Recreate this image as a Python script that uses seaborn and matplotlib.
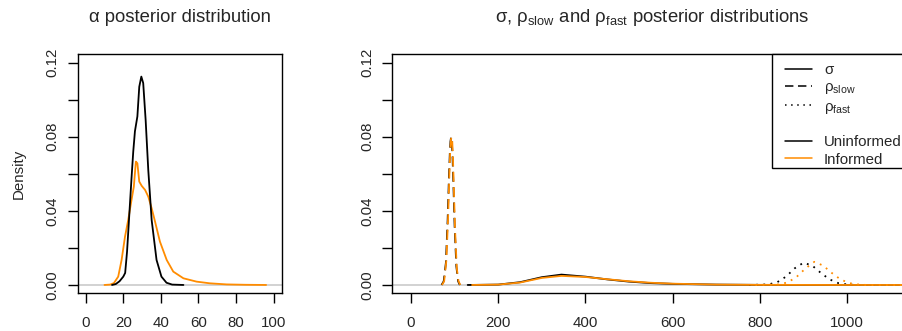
import matplotlib
matplotlib.use("Agg")
import matplotlib.pyplot as plt
from matplotlib.lines import Line2D
from matplotlib.patches import Rectangle
import seaborn as sns

sns.set_style("white")
plt.rcParams['font.family'] = ['Liberation Sans', 'DejaVu Sans']
plt.rcParams['mathtext.fontset'] = 'custom'
plt.rcParams['mathtext.rm'] = 'Liberation Sans'
plt.rcParams['mathtext.it'] = 'Liberation Sans:italic'

# ---- data: alpha posterior ----
alpha_uninf_x = [14, 16, 18, 20, 21, 22, 22.6, 23.5, 24.4, 25.3, 26.2, 27.5, 28.5, 29.6, 30.6, 31.9, 33.3, 35.1, 37.7, 40.3, 43, 46, 52]
alpha_uninf_y = [0, 0.0005, 0.002, 0.0045, 0.0065, 0.018, 0.028, 0.043, 0.058, 0.072, 0.083, 0.091, 0.107, 0.1125, 0.109, 0.089, 0.062, 0.035, 0.0135, 0.0045, 0.0012, 0.0002, 0]
alpha_inf_x = [10, 13, 15, 17.3, 19.1, 20.9, 22.6, 24.4, 25.6, 26.7, 27.5, 28.5, 29.8, 31.6, 33.3, 35.1, 36.9, 39.5, 43.1, 46.6, 52, 59, 66, 75, 85, 96]
alpha_inf_y = [0, 0.0002, 0.001, 0.0045, 0.0135, 0.026, 0.035, 0.046, 0.053, 0.0666, 0.0657, 0.0558, 0.0535, 0.0513, 0.0477, 0.0414, 0.0342, 0.0234, 0.0135, 0.0072, 0.0036, 0.0018, 0.0009, 0.0003, 0.0001, 0]

# ---- data: sigma ----
sigma_uninf_x = [130, 200, 250, 300, 345, 400, 450, 500, 550, 600, 700, 800, 1000, 1120]
sigma_uninf_y = [0, 0.0002, 0.0015, 0.0042, 0.0056, 0.0045, 0.0030, 0.0018, 0.0010, 0.0006, 0.0002, 0.00005, 0, 0]
sigma_inf_x = [140, 200, 250, 300, 345, 400, 450, 500, 550, 600, 700, 800, 1000, 1125]
sigma_inf_y = [0, 0.0002, 0.0013, 0.0038, 0.0049, 0.0043, 0.0031, 0.0020, 0.0012, 0.0007, 0.0002, 0.00005, 0, 0]

# ---- data: rho_slow ----
rslow_uninf_x = [70, 75, 80, 84, 87, 89, 90.5, 92, 93.5, 95, 97, 100, 104, 108, 112]
rslow_uninf_y = [0, 0.002, 0.012, 0.035, 0.058, 0.071, 0.0775, 0.080, 0.078, 0.071, 0.056, 0.032, 0.010, 0.002, 0]
rslow_inf_x = [71, 76, 81, 85, 88, 90, 91.5, 93, 94.5, 96, 98, 101, 105, 109, 113]
rslow_inf_y = [0, 0.002, 0.013, 0.036, 0.060, 0.073, 0.0785, 0.080, 0.078, 0.070, 0.054, 0.030, 0.009, 0.002, 0]

# ---- data: rho_fast ----
rfast_uninf_x = [775, 820, 840, 860, 880, 900, 920, 940, 960, 980, 1000, 1020, 1070]
rfast_uninf_y = [0, 0.0003, 0.0015, 0.0045, 0.0090, 0.0120, 0.0105, 0.0065, 0.0030, 0.0010, 0.0003, 0, 0]
rfast_inf_x = [790, 845, 865, 885, 905, 925, 945, 965, 985, 1005, 1025, 1045, 1130]
rfast_inf_y = [0, 0.0003, 0.0015, 0.0045, 0.0090, 0.0125, 0.0105, 0.0065, 0.0030, 0.0010, 0.0003, 0, 0]

y_ticks = [0, 0.02, 0.04, 0.06, 0.08, 0.10, 0.12]
y_labels = ['0.00', '', '0.04', '', '0.08', '', '0.12']
x_ticks_left = [0, 20, 40, 60, 80, 100]
x_ticks_right = [0, 200, 400, 600, 800, 1000]
legend_labels = ['σ', r'$\mathregular{ρ_{slow}}$', r'$\mathregular{ρ_{fast}}$', '', 'Uninformed', 'Informed']

ORANGE = '#FF8C00'
BLACK = 'black'
GRAY = '#CFCFCF'
LW = 1.3
DASH = (0, (5.5, 3))
DOT = (0, (1, 3))

W, H = 903, 331
fig = plt.figure(figsize=(W / 100, H / 100), dpi=100)

def px_rect(l, r, t, b):
    return [l / W, (H - b) / H, (r - l) / W, (b - t) / H]

R_L, R_R, TOP, BOT = 392, 912, 54, 293.3
axL = fig.add_axes(px_rect(77.7, 281.7, TOP, BOT))
axR = fig.add_axes(px_rect(R_L, R_R, TOP, BOT))

for ax in (axL, axR):
    ax.axhline(0, color=GRAY, lw=1.3, zorder=1)

kw = dict(lw=LW, sort=False, estimator=None)
sns.lineplot(x=alpha_uninf_x, y=alpha_uninf_y, ax=axL, color=BLACK, zorder=3, **kw)
sns.lineplot(x=alpha_inf_x, y=alpha_inf_y, ax=axL, color=ORANGE, zorder=2, **kw)

sns.lineplot(x=sigma_uninf_x, y=sigma_uninf_y, ax=axR, color=BLACK, zorder=2, **kw)
sns.lineplot(x=sigma_inf_x, y=sigma_inf_y, ax=axR, color=ORANGE, zorder=3, **kw)
sns.lineplot(x=rslow_uninf_x, y=rslow_uninf_y, ax=axR, color=BLACK, linestyle=DASH, zorder=2, **kw)
sns.lineplot(x=rslow_inf_x, y=rslow_inf_y, ax=axR, color=ORANGE, linestyle=DASH, zorder=3, **kw)
sns.lineplot(x=rfast_uninf_x, y=rfast_uninf_y, ax=axR, color=BLACK, linestyle=DOT, zorder=2, **kw)
sns.lineplot(x=rfast_inf_x, y=rfast_inf_y, ax=axR, color=ORANGE, linestyle=DOT, zorder=3, **kw)

axL.set_xlim(-4.26, 104.3)
axR.set_xlim(-43.6, 1149)
for ax, xt in ((axL, x_ticks_left), (axR, x_ticks_right)):
    ax.set_ylim(-0.0045, 0.1247)
    ax.set_xticks(xt)
    ax.set_xticklabels([str(v) for v in xt])
    ax.set_yticks(y_ticks)
    ax.set_yticklabels(y_labels, rotation=90, va='center')
    ax.tick_params(axis='both', direction='out', length=7, width=1, color='black',
                   labelsize=10.8, left=True, bottom=True)
    ax.tick_params(axis='x', pad=9)
    ax.tick_params(axis='y', pad=6)
    for s in ax.spines.values():
        s.set_color('black')
        s.set_linewidth(1)
        s.set_visible(True)
    ax.set_xlabel('')
    ax.set_ylabel('')

axL.set_ylabel('Density', fontsize=10.8, labelpad=14)

fig.text(179.7 / W, 1 - 17 / H, 'α posterior distribution', ha='center', va='center', fontsize=13.3)
fig.text(652 / W, 1 - 17 / H,
         r'σ, $\mathregular{ρ_{slow}}$ and $\mathregular{ρ_{fast}}$ posterior distributions',
         ha='center', va='center', fontsize=13.3)

# legend frame (R-style box anchored at the plot's top-right corner)
aw, ah = R_R - R_L, BOT - TOP
fx0 = (772 - R_L) / aw
fy0 = (BOT - 167.7) / ah
frame = Rectangle((fx0, fy0), 1.02 - fx0, 1 - fy0, transform=axR.transAxes,
                  facecolor='white', edgecolor='black', lw=1, zorder=5, clip_on=False)
axR.add_patch(frame)

handles = [
    Line2D([], [], color=BLACK, lw=1.1),
    Line2D([], [], color=BLACK, lw=1.1, linestyle=DASH),
    Line2D([], [], color=BLACK, lw=1.1, linestyle=DOT),
    Line2D([], [], color='none', lw=0),
    Line2D([], [], color=BLACK, lw=1.1),
    Line2D([], [], color=ORANGE, lw=1.1),
]
leg = axR.legend(handles, legend_labels, loc='upper left',
                 bbox_to_anchor=((785 - R_L) / aw, (BOT - 63.5) / ah),
                 borderaxespad=0, borderpad=0, frameon=False, fontsize=10.8,
                 handlelength=1.8, handletextpad=0.8, labelspacing=0.2)
leg.set_zorder(6)

fig.savefig('out.png', dpi=100)
